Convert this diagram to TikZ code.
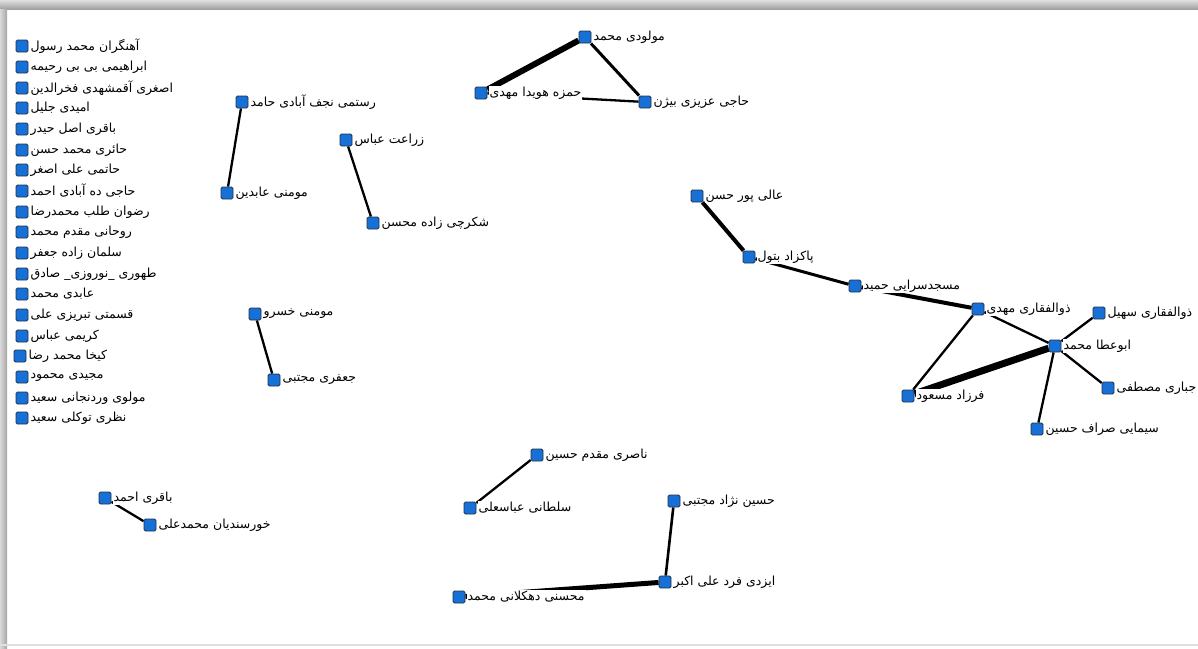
\documentclass[tikz,border=0pt]{standalone}
\usepackage{fontspec}
\newfontfamily\fafont[Script=Arabic]{DejaVu Sans}
\TeXXeTstate=1
\usetikzlibrary{positioning, backgrounds}
\definecolor{nodeblue}{RGB}{22,112,214}
\definecolor{nodeedge}{RGB}{35,50,75}
\tikzset{
x=1pt, y=-1pt, % pixel-like units, y runs downwards
person/.style={draw=nodeedge, fill=nodeblue, line width=0.8pt, rounded corners=1.5pt, minimum size=12pt, inner sep=0pt}, % the blue squares
tag/.style={fill=white, inner sep=1pt, font=\fafont\fontsize{12.5}{14}\selectfont}, % the text beside each square
label distance=1pt, % small gap between square and its text
tie/.style={line width=2.3pt}, % a plain link
}

\begin{document}
\begin{tikzpicture}
\useasboundingbox (0,0) rectangle (1198,648);
\clip (0,0) rectangle (1198,648);
% window frame
\shade[top color=gray!25, bottom color=gray!75] (0,0) rectangle (1198,9);
\shade[left color=gray!30, right color=gray!70] (0,9) rectangle (7,648);
\fill[gray!25] (0,644) rectangle (1198,646);

% people with no links
\node[person, label={[tag]right:\beginR آهنگران محمد رسول\endR}] (l1) at (22,46) {};
\node[person, label={[tag]right:\beginR ابراهیمی بی بی رحیمه\endR}] (l2) at (22,67) {};
\node[person, label={[tag]right:\beginR اصغری آقمشهدی فخرالدین\endR}] (l3) at (22,88) {};
\node[person, label={[tag]right:\beginR امیدی جلیل\endR}] (l4) at (22,108) {};
\node[person, label={[tag]right:\beginR باقری اصل حیدر\endR}] (l5) at (22,129) {};
\node[person, label={[tag]right:\beginR حائری محمد حسن\endR}] (l6) at (22,150) {};
\node[person, label={[tag]right:\beginR حاتمی علی اصغر\endR}] (l7) at (22,170) {};
\node[person, label={[tag]right:\beginR حاجی ده آبادی احمد\endR}] (l8) at (22,191) {};
\node[person, label={[tag]right:\beginR رضوان طلب محمدرضا\endR}] (l9) at (22,212) {};
\node[person, label={[tag]right:\beginR روحانی مقدم محمد\endR}] (l10) at (22,232) {};
\node[person, label={[tag]right:\beginR سلمان زاده جعفر\endR}] (l11) at (22,253) {};
\node[person, label={[tag]right:\beginR طهوری \_نوروزی\_ صادق\endR}] (l12) at (22,274) {};
\node[person, label={[tag]right:\beginR عابدی محمد\endR}] (l13) at (22,294) {};
\node[person, label={[tag]right:\beginR قسمتی تبریزی علی\endR}] (l14) at (22,315) {};
\node[person, label={[tag]right:\beginR کریمی عباس\endR}] (l15) at (22,336) {};
\node[person, label={[tag]right:\beginR کیخا محمد رضا\endR}] (l16) at (20,356) {};
\node[person, label={[tag]right:\beginR مجیدی محمود\endR}] (l17) at (22,377) {};
\node[person, label={[tag]right:\beginR مولوی وردنجانی سعید\endR}] (l18) at (22,398) {};
\node[person, label={[tag]right:\beginR نظری توکلی سعید\endR}] (l19) at (22,418) {};

% linked people
\node[person, label={[tag]right:\beginR رستمی نجف آبادی حامد\endR}] (rostami) at (242,102) {};
\node[person, label={[tag]right:\beginR مومنی عابدین\endR}] (momeniA) at (227,193) {};
\node[person, label={[tag]right:\beginR زراعت عباس\endR}] (zeraat) at (346,140) {};
\node[person, label={[tag]right:\beginR شکرچی زاده محسن\endR}] (shekar) at (373,223) {};
\node[person, label={[tag]right:\beginR مولودی محمد\endR}] (mouloudi) at (585,37) {};
\node[person, label={[tag]right:\beginR حمزه هویدا مهدی\endR}] (hamzeh) at (481,93) {};
\node[person, label={[tag]right:\beginR حاجی عزیزی بیژن\endR}] (hajiaz) at (645,102) {};
\node[person, label={[tag]right:\beginR عالی پور حسن\endR}] (alipour) at (697,196) {};
\node[person, label={[tag]right:\beginR پاکزاد بتول\endR}] (pakzad) at (749,257) {};
\node[person, label={[tag]right:\beginR مسجدسرایی حمید\endR}] (masjed) at (855,286) {};
\node[person, label={[tag]right:\beginR ذوالفقاری مهدی\endR}] (zolm) at (978,309) {};
\node[person, label={[tag]right:\beginR ذوالفقاری سهیل\endR}] (zols) at (1099,313) {};
\node[person, label={[tag]right:\beginR ابوعطا محمد\endR}] (abouata) at (1055,346) {};
\node[person, label={[tag]right:\beginR فرزاد مسعود\endR}] (farzad) at (908,396) {};
\node[person, label={[tag]right:\beginR جباری مصطفی\endR}] (jabbari) at (1108,388) {};
\node[person, label={[tag]right:\beginR سیمایی صراف حسین\endR}] (simaei) at (1037,429) {};
\node[person, label={[tag]right:\beginR مومنی خسرو\endR}] (momenik) at (255,314) {};
\node[person, label={[tag]right:\beginR جعفری مجتبی\endR}] (jafari) at (274,380) {};
\node[person, label={[tag]right:\beginR باقری احمد\endR}] (bagheria) at (105,498) {};
\node[person, label={[tag]right:\beginR خورسندیان محمدعلی\endR}] (khors) at (150,525) {};
\node[person, label={[tag]right:\beginR ناصری مقدم حسین\endR}] (naseri) at (537,455) {};
\node[person, label={[tag]right:\beginR سلطانی عباسعلی\endR}] (soltani) at (470,508) {};
\node[person, label={[tag]right:\beginR حسین نژاد مجتبی\endR}] (hosein) at (674,501) {};
\node[person, label={[tag]right:\beginR ایزدی فرد علی اکبر\endR}] (izadi) at (665,582) {};
\node[person, label={[tag]right:\beginR محسنی دهکلانی محمد\endR}] (mohseni) at (459,597) {};

% links, kept behind the squares and names
\begin{scope}[on background layer]
\draw
    (rostami) edge[tie] (momeniA)
    (zeraat) edge[tie] (shekar)
    (mouloudi) edge[line width=6pt] (hamzeh)
    (mouloudi) edge[line width=3pt] (hajiaz)
    (hamzeh) edge[tie] (hajiaz)
    (alipour) edge[line width=4pt] (pakzad)
    (pakzad) edge[line width=3pt] (masjed)
    (masjed) edge[line width=4pt] (zolm)
    (zolm) edge[tie] (abouata)
    (zolm) edge[tie] (farzad)
    (abouata) edge[line width=7pt] (farzad)
    (abouata) edge[tie] (zols)
    (abouata) edge[tie] (jabbari)
    (abouata) edge[tie] (simaei)
    (momenik) edge[tie] (jafari)
    (bagheria) edge[tie] (khors)
    (naseri) edge[tie] (soltani)
    (hosein) edge[line width=2.6pt] (izadi)
    (izadi) edge[line width=5pt] (mohseni)
    ;
\end{scope}
\end{tikzpicture}
\end{document}
